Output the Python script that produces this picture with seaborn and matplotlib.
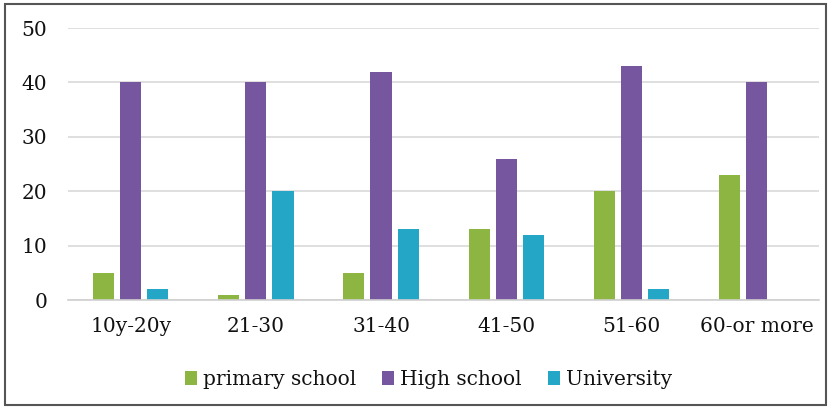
import matplotlib
matplotlib.use("Agg")
import matplotlib.pyplot as plt
import seaborn as sns
import pandas as pd
from matplotlib.patches import Rectangle

age_groups = ["10y-20y", "21-30", "31-40", "41-50", "51-60", "60-or more"]
primary_school = [5, 1, 5, 13, 20, 23]
high_school = [40, 40, 42, 26, 43, 40]
university = [2, 20, 13, 12, 2, 0]
series_names = ["primary school", "High school", "University"]
y_ticks = [0, 10, 20, 30, 40, 50]

df = pd.DataFrame({
    "age": age_groups * 3,
    "value": primary_school + high_school + university,
    "level": [series_names[0]] * 6 + [series_names[1]] * 6 + [series_names[2]] * 6,
})

sns.set_theme(style="white")
plt.rcParams["font.family"] = ["DejaVu Serif"]

fig = plt.figure(figsize=(8.3, 4.09), dpi=100)
ax = fig.add_axes([0.082, 0.2665, 0.905, 0.665])

palette = {"primary school": "#8db542", "High school": "#7756a0", "University": "#24a7c6"}
sns.barplot(data=df, x="age", y="value", hue="level", palette=palette,
            width=0.65, gap=0.22, saturation=1, linewidth=0, ax=ax, legend=True)

ax.set_ylim(0, 50)
ax.set_xlim(-0.5, 5.5)
ax.set_yticks(y_ticks)
ax.yaxis.grid(True, color="#d9d9d9", linewidth=1.2)
ax.set_axisbelow(True)
for s in ["top", "right", "left"]:
    ax.spines[s].set_visible(False)
ax.spines["bottom"].set_color("#d0d0d0")
ax.spines["bottom"].set_linewidth(1.2)
ax.set_xlabel("")
ax.set_ylabel("")
ax.tick_params(axis="y", labelsize=14.5, pad=15, length=0, colors="#111111")
ax.tick_params(axis="x", labelsize=14.5, pad=12, length=0, colors="#111111")

leg = ax.legend(loc="upper center", bbox_to_anchor=(0.48, -0.19), ncol=3, frameon=False,
                fontsize=14.5, handlelength=0.6, handleheight=0.7, handletextpad=0.3,
                columnspacing=1.3)
for t in leg.get_texts():
    t.set_color("#111111")

fig.patches.append(Rectangle((0.006, 0.01), 0.989, 0.98, transform=fig.transFigure,
                             fill=False, edgecolor="#555555", linewidth=1.5))

fig.savefig("out.png", dpi=100)
